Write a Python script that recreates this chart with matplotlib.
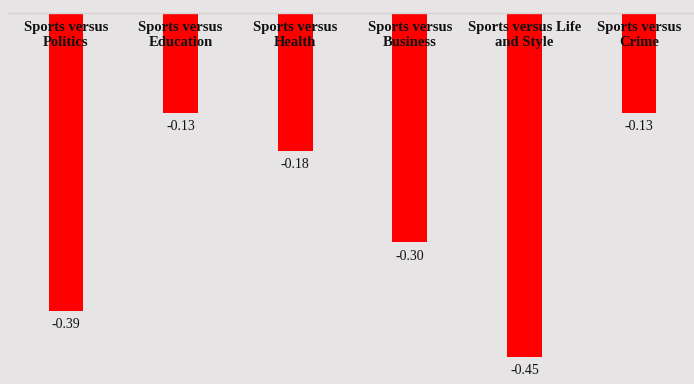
import matplotlib
matplotlib.use("Agg")
import matplotlib.pyplot as plt
from matplotlib.lines import Line2D

categories = ["Sports versus\nPolitics", "Sports versus\nEducation", "Sports versus\nHealth",
              "Sports versus\nBusiness", "Sports versus Life\nand Style", "Sports versus\nCrime"]
values = [-0.39, -0.13, -0.18, -0.30, -0.45, -0.13]
value_labels = ["-0.39", "-0.13", "-0.18", "-0.30", "-0.45", "-0.13"]

bg = "#e6e4e4"
W, H = 694, 384
fig = plt.figure(figsize=(W / 100, H / 100), dpi=100, facecolor=bg)
top_px = 14
ax = fig.add_axes([0, 0, 1, (H - top_px) / H], facecolor=bg)

scale = 762.0
zero_px = 13.8
x = list(range(len(categories)))
ax.bar(x, values, width=0.305, color="#ff0000", zorder=2)
ax.set_xlim(-0.576, 5.48)
ax.set_ylim(-(H - zero_px) / scale, -(top_px - zero_px) / scale)

fig.add_artist(Line2D([8 / W, 1], [1 - 13 / H, 1 - 13 / H], transform=fig.transFigure,
                      color="#d4d2d2", lw=1))

for xi, v, lab, cat in zip(x, values, value_labels, categories):
    ax.text(xi, v - 14 / scale, lab, ha="center", va="center", fontsize=10,
            family="Liberation Serif", color="#111111", zorder=3, clip_on=False)
    fig.text((xi + 0.576) / (5.48 + 0.576), 1 - 35 / H, cat, ha="center", va="center",
             fontsize=10.5, family="Liberation Serif", fontweight="bold", color="#111111",
             linespacing=1.25, zorder=3)

ax.axis("off")
fig.savefig("out.png", dpi=100, facecolor=bg)
